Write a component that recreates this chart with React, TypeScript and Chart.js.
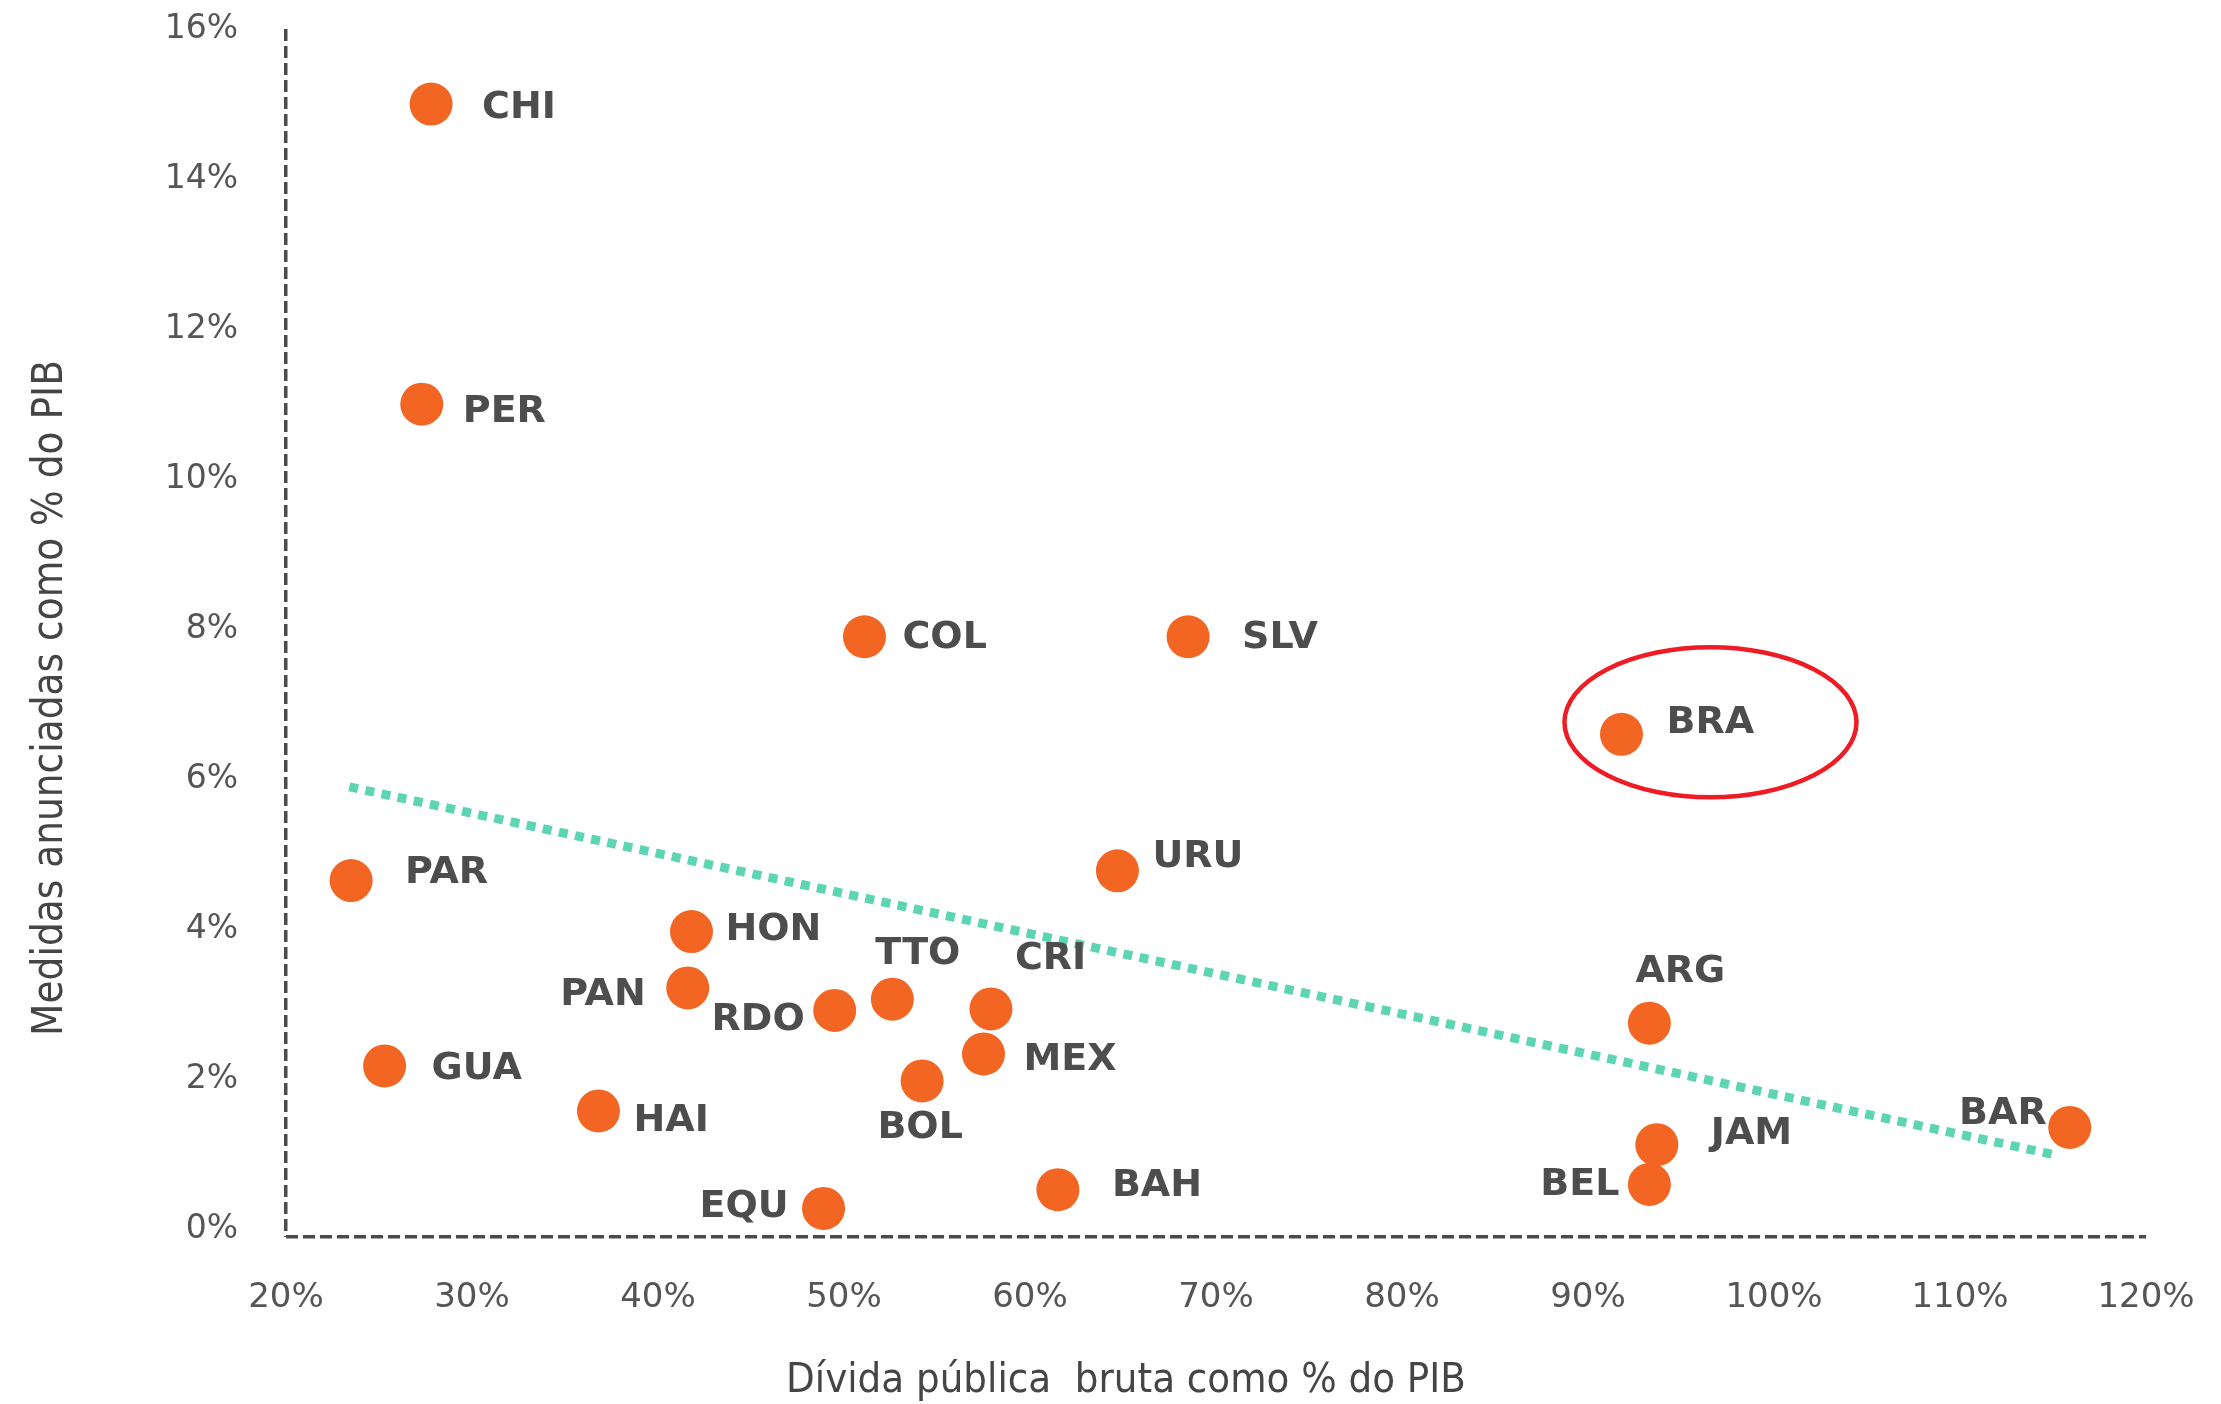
import React, { useEffect, useRef } from "react";
import { Chart, registerables } from "chart.js";

Chart.register(...registerables);

// ---- data ----
const countries = ["CHI", "PER", "COL", "SLV", "BRA", "URU", "PAR", "HON", "PAN", "RDO", "TTO", "CRI", "MEX", "BOL", "GUA", "HAI", "EQU", "BAH", "ARG", "JAM", "BEL", "BAR"];
const debtPct = [27.8, 27.3, 51.1, 68.5, 91.8, 64.7, 23.5, 41.8, 41.6, 49.5, 52.6, 57.9, 57.5, 54.2, 25.3, 36.8, 48.9, 61.5, 93.3, 93.7, 93.3, 115.9];
const measuresPct = [15.0, 11.0, 7.9, 7.9, 6.6, 4.78, 4.65, 3.97, 3.22, 2.92, 3.07, 2.94, 2.34, 1.98, 2.18, 1.58, 0.28, 0.53, 2.75, 1.13, 0.6, 1.36];
const trendX = [23.4, 115.0];
const trendY = [5.9, 1.0];
const xTicks = [20, 30, 40, 50, 60, 70, 80, 90, 100, 110, 120];
const yTicks = [0, 2, 4, 6, 8, 10, 12, 14, 16];
const yAxisFloor = -0.1; // where the dashed horizontal axis sits
const xTitle = "Dívida pública  bruta como % do PIB";
const yTitle = "Medidas anunciadas como % do PIB";
const highlighted = "BRA";

// ---- label placement (px offsets from the point) ----
const labelPlacement: [number, number, CanvasTextAlign][] = [
  [51, 4, "left"], [41, 8, "left"], [38, 1, "left"], [54, 1, "left"], [45, -11, "left"],
  [35, -14, "left"], [54, -7, "left"], [34, -1, "left"], [-42, 7, "right"], [-30, 10, "right"],
  [-17, -45, "left"], [24, -50, "left"], [40, 6, "left"], [-2, 47, "center"], [47, 3, "left"],
  [35, 10, "left"], [-35, -1, "right"], [54, -4, "left"], [-14, -51, "left"], [54, -11, "left"],
  [-30, 1, "right"], [-23, -13, "right"],
];
const ellipseStyle = { dx: 89, dy: -12, rx: 146, ry: 75, color: "#ee1c25", width: 4.5 };
const axisColor = "#4a4a4a";
const titleFont = "'DejaVu Sans Condensed', 'Liberation Sans Narrow', 'DejaVu Sans'";

function fitText(ctx: CanvasRenderingContext2D, text: string, family: string, target: number) {
  ctx.font = `100px ${family}`;
  const w = ctx.measureText(text).width;
  const size = (100 * target) / w;
  ctx.font = `${size}px ${family}`;
}

export default function App() {
  const ref = useRef<HTMLCanvasElement | null>(null);

  useEffect(() => {
    if (!ref.current) return;
    const labelPlugin = {
      id: "pointLabels",
      afterDatasetsDraw(chart: any) {
        const ctx = chart.ctx;
        const meta = chart.getDatasetMeta(1);
        ctx.save();
        ctx.font = "bold 38px 'DejaVu Sans'";
        ctx.fillStyle = "#4d4d4d";
        ctx.textBaseline = "middle";
        meta.data.forEach((el: any, i: number) => {
          const [dx, dy, align] = labelPlacement[i];
          ctx.textAlign = align;
          ctx.fillText(countries[i], el.x + dx, el.y + dy);
          if (countries[i] === highlighted) {
            ctx.save();
            ctx.beginPath();
            ctx.strokeStyle = ellipseStyle.color;
            ctx.lineWidth = ellipseStyle.width;
            ctx.ellipse(el.x + ellipseStyle.dx, el.y + ellipseStyle.dy, ellipseStyle.rx, ellipseStyle.ry, 0, 0, Math.PI * 2);
            ctx.stroke();
            ctx.restore();
          }
        });
        // axis titles
        ctx.fillStyle = "#454545";
        ctx.textAlign = "center";
        ctx.textBaseline = "middle";
        fitText(ctx, xTitle, titleFont, 680);
        ctx.fillText(xTitle, 1126, 1381);
        fitText(ctx, yTitle, titleFont, 676);
        ctx.translate(51, 698);
        ctx.rotate(-Math.PI / 2);
        ctx.fillText(yTitle, 0, 0);
        ctx.restore();
      },
    };

    const chart = new Chart(ref.current, {
      type: "scatter",
      data: {
        datasets: [
          {
            type: "line",
            data: trendX.map((x, i) => ({ x, y: trendY[i] })),
            borderColor: "#5dd5b2",
            borderWidth: 9,
            borderDash: [9, 7.5],
            borderCapStyle: "butt",
            pointRadius: 0,
            fill: false,
            order: 2,
          } as any,
          {
            data: debtPct.map((x, i) => ({ x, y: measuresPct[i] })),
            backgroundColor: "#f26522",
            borderWidth: 0,
            pointRadius: 21.5,
            pointHoverRadius: 21.5,
            order: 1,
          },
        ],
      },
      options: {
        animation: false,
        responsive: false,
        layout: { autoPadding: false, padding: { top: 29, right: 75, left: 0, bottom: 0 } },
        plugins: { legend: { display: false }, tooltip: { enabled: false } },
        scales: {
          x: {
            type: "linear",
            min: xTicks[0],
            max: xTicks[xTicks.length - 1],
            afterBuildTicks: (s: any) => { s.ticks = xTicks.map((v) => ({ value: v })); },
            afterFit: (s: any) => { s.height = 167; s.paddingLeft = 0; s.paddingRight = 0; },
            grid: {
              display: true,
              drawTicks: false,
              lineWidth: 3.5,
              color: (c: any) => (c.tick && c.tick.value === xTicks[0] ? axisColor : "rgba(0,0,0,0)"),
            },
            border: { display: false, dash: [12, 5] },
            ticks: {
              padding: 41,
              color: "#555",
              font: { family: "'DejaVu Sans'", size: 34 },
              callback: (v: any) => v + "%",
              maxRotation: 0,
            },
          },
          y: {
            type: "linear",
            min: yAxisFloor,
            max: yTicks[yTicks.length - 1],
            afterBuildTicks: (s: any) => { s.ticks = [{ value: yAxisFloor }, ...yTicks.map((v) => ({ value: v }))]; },
            afterFit: (s: any) => { s.width = 286; s.paddingTop = 0; s.paddingBottom = 0; },
            grid: {
              display: true,
              drawTicks: false,
              lineWidth: 3.5,
              color: (c: any) => (c.tick && c.tick.value === yAxisFloor ? axisColor : "rgba(0,0,0,0)"),
            },
            border: { display: false, dash: [12, 5] },
            ticks: {
              padding: 48,
              color: "#555",
              font: { family: "'DejaVu Sans'", size: 33 },
              callback: (v: any) => (v < 0 ? "" : v + "%"),
            },
          },
        },
      },
      plugins: [labelPlugin],
    } as any);
    return () => chart.destroy();
  }, []);

  return (
    <div style={{ position: "absolute", left: 0, top: 0, width: 2221, height: 1404, background: "#fff" }}>
      <canvas ref={ref} width={2221} height={1404} style={{ display: "block" }} />
    </div>
  );
}
